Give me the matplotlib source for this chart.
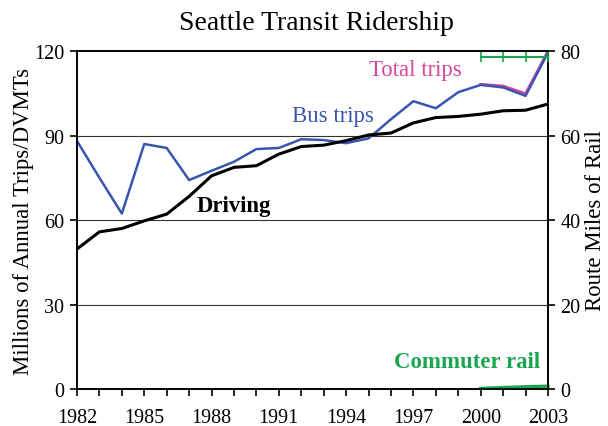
import numpy as np
import matplotlib.pyplot as plt

# data
years = np.arange(1982, 2004)
bus_trips = [88.1, 75.0, 62.3, 87.0, 85.6, 74.2, 77.5, 80.7, 85.2, 85.6, 88.7,
             88.4, 87.3, 89.0, 95.8, 102.2, 99.7, 105.4, 108.0, 107.1, 104.1, 119.5]
driving = [49.7, 55.8, 57.0, 59.7, 62.1, 68.4, 75.7, 78.7, 79.3, 83.4, 86.1,
           86.6, 88.2, 90.2, 90.9, 94.5, 96.4, 96.8, 97.6, 98.8, 99.0, 101.2]
rail_years = [2000, 2001, 2002, 2003]
total_trips = [108.2, 107.6, 104.9, 120.0]
commuter_rail = [0.2, 0.5, 0.8, 1.0]
rail_miles = [78.5, 78.5, 78.5, 78.5]

BLUE = '#3a55b0'
PINK = '#d9479b'
GREEN = '#1aa650'
SERIF = 'Liberation Serif'

plt.rcParams['font.family'] = SERIF

fig = plt.figure(figsize=(6.08, 4.27), dpi=100)
ax = fig.add_axes([0.1266, 0.0867, 0.7747, 0.7913])
ax2 = ax.twinx()

# grid lines
for v in (30, 60, 90):
    ax.axhline(v, color='#333333', lw=0.8, zorder=1)

ax.plot(rail_years, total_trips, color=PINK, lw=2.0, zorder=3)
ax.plot(years, bus_trips, color=BLUE, lw=1.8, zorder=4)
ax.plot(years, driving, color='black', lw=2.2, zorder=4)
ax.plot(rail_years, commuter_rail, color=GREEN, lw=2.4, zorder=4, clip_on=False)
ax2.plot(rail_years, rail_miles, color=GREEN, lw=1.5, marker='|', ms=7, mew=1.2,
         clip_on=False, zorder=5)

ax.set_xlim(1982, 2003)
ax.set_ylim(0, 120)
ax2.set_ylim(0, 80)

ax.set_xticks(years, minor=False)
ax.set_xticklabels([str(y) if (y - 1982) % 3 == 0 else '' for y in years])
ax.set_yticks([0, 30, 60, 90, 120])
ax2.set_yticks([0, 20, 40, 60, 80])

for a in (ax, ax2):
    a.tick_params(direction='out', length=5, width=1.2, labelsize=14.5, pad=4)
    for s in a.spines.values():
        s.set_linewidth(1.2)
ax.tick_params(axis='x', pad=9)

ax.set_ylabel('Millions of Annual Trips/DVMTs', fontsize=16.4, labelpad=0)
ax2.set_ylabel('Route Miles of Rail', fontsize=16.4, labelpad=3)
fig.suptitle('Seattle Transit Ridership', fontsize=20, y=0.975, x=0.52)

ax.text(1997.1, 113.6, 'Total trips', color=PINK, fontsize=16.4, ha='center', va='center')
ax.text(1993.4, 97.2, 'Bus trips', color=BLUE, fontsize=16.4, ha='center', va='center')
ax.text(1989.0, 65.0, 'Driving', color='black', fontsize=16.4, fontweight='bold',
        ha='center', va='center')
ax.text(1999.4, 9.9, 'Commuter rail', color=GREEN, fontsize=16.4, fontweight='bold',
        ha='center', va='center')

fig.savefig('out.png', dpi=100)
